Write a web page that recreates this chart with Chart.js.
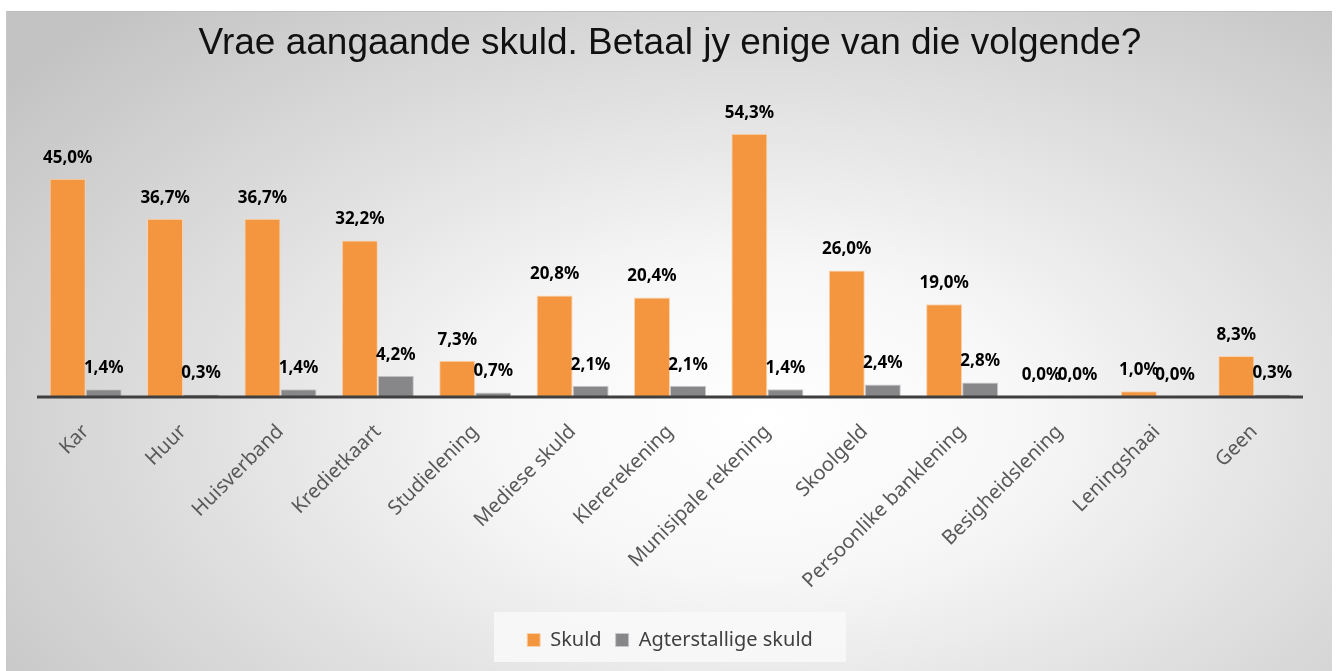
<!DOCTYPE html>
<html>
<head>
<meta charset="utf-8">
<script src="https://cdn.jsdelivr.net/npm/chart.js@4"></script>
<style>
  html, body { margin: 0; padding: 0; background: #fff; }
  #frame {
    position: absolute; left: 6px; top: 11px; width: 1326px; height: 660px;
    border-top: 1px solid #bdbdbd; border-left: 1px solid #c8c8c8; box-sizing: border-box;
    background: radial-gradient(ellipse 72% 85% at 57% 62%, #ffffff 0%, #f7f7f7 28%, #dedede 62%, #c3c3c3 100%);
  }
  canvas { display: block; }
</style>
</head>
<body>
<div id="frame"><canvas id="chart" width="1326" height="660"></canvas></div>
<script>
// ─── Data ──────────────────────────────────────────
const TITLE = 'Vrae aangaande skuld. Betaal jy enige van die volgende?';
const categories = ['Kar', 'Huur', 'Huisverband', 'Kredietkaart', 'Studielening', 'Mediese skuld',
  'Klererekening', 'Munisipale rekening', 'Skoolgeld', 'Persoonlike banklening',
  'Besigheidslening', 'Leningshaai', 'Geen'];
const skuld = [45.0, 36.7, 36.7, 32.2, 7.3, 20.8, 20.4, 54.3, 26.0, 19.0, 0.0, 1.0, 8.3];
const agterstallig = [1.4, 0.3, 1.4, 4.2, 0.7, 2.1, 2.1, 1.4, 2.4, 2.8, 0.0, 0.0, 0.3];

const fmt = v => v.toFixed(1).replace('.', ',') + '%';

// ─── Plugins ───────────────────────────────────────
// value labels above bars (grey series labels sit at a fixed minimum height, like the original)
const valueLabels = {
  id: 'valueLabels',
  afterDatasetsDraw(chart) {
    const { ctx, scales: { y } } = chart;
    const zero = y.getPixelForValue(0);
    ctx.save();
    ctx.font = 'bold 17px "Noto Sans", sans-serif';
    ctx.fillStyle = '#000';
    ctx.textAlign = 'center';
    ctx.textBaseline = 'middle';
    chart.data.datasets.forEach((ds, di) => {
      chart.getDatasetMeta(di).data.forEach((bar, i) => {
        let ty = Math.min(bar.y - 21, zero - 21);
        ctx.fillText(fmt(ds.data[i]), bar.x, ty);
      });
    });
    ctx.restore();
  }
};

// baseline + legend background
const extras = {
  id: 'extras',
  beforeDraw(chart) {
    const l = chart.legend;
    const { ctx } = chart;
    ctx.save();
    ctx.fillStyle = 'rgba(248,248,248,0.95)';
    ctx.fillRect(l.left + (l.width - 352) / 2, l.top - 4, 352, l.height + 6);
    ctx.restore();
  },
  afterDatasetsDraw(chart) {
    const { ctx, chartArea, scales: { y } } = chart;
    const zero = y.getPixelForValue(0);
    ctx.save();
    ctx.strokeStyle = '#3f3f3f';
    ctx.lineWidth = 3;
    ctx.beginPath();
    ctx.moveTo(chartArea.left, zero + 1);
    ctx.lineTo(chartArea.right, zero + 1);
    ctx.stroke();
    ctx.restore();
  }
};

// ─── Chart ─────────────────────────────────────────
new Chart(document.getElementById('chart'), {
  type: 'bar',
  data: {
    labels: categories,
    datasets: [
      { label: 'Skuld', data: skuld, backgroundColor: '#F4963F', borderColor: '#FAD3B0', borderWidth: 1 },
      { label: 'Agterstallige skuld', data: agterstallig, backgroundColor: '#87878A', borderColor: '#C9C9CB', borderWidth: 1 }
    ]
  },
  options: {
    responsive: false,
    animation: false,
    layout: { padding: { left: 30, right: 30, top: 8, bottom: 12 } },
    datasets: { bar: { categoryPercentage: 0.74, barPercentage: 1.0 } },
    plugins: {
      title: {
        display: true, text: TITLE, color: '#111',
        font: { family: '"Liberation Sans", Arial, sans-serif', size: 37, weight: 'normal' },
        padding: { top: 2, bottom: 38 }
      },
      legend: {
        position: 'bottom',
        labels: {
          color: '#404040', boxWidth: 13, boxHeight: 13, padding: 14,
          font: { family: '"Noto Sans", sans-serif', size: 20 }
        }
      },
      tooltip: { enabled: false }
    },
    scales: {
      x: {
        grid: { display: false },
        border: { display: false },
        ticks: {
          color: '#595959', autoSkip: false, maxRotation: 45, minRotation: 45, padding: 16,
          font: { family: '"Noto Sans", sans-serif', size: 20 }
        },
        afterFit: s => { s.height = 220; }
      },
      y: { display: false, min: 0, max: 60.4 }
    }
  },
  plugins: [valueLabels, extras]
});
</script>
</body>
</html>
